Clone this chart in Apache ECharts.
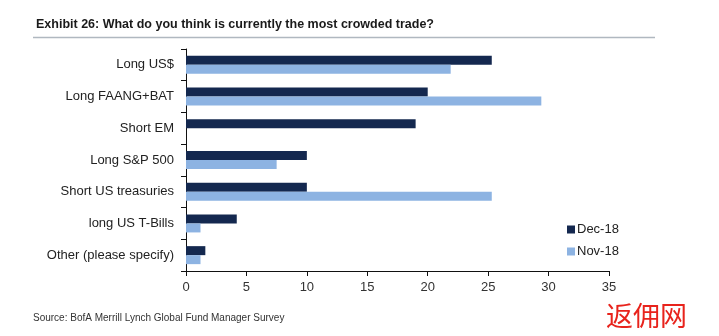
<!DOCTYPE html>
<html><head><meta charset="utf-8">
<script src="https://cdn.jsdelivr.net/npm/echarts@6/dist/echarts.min.js"></script>
<style>html,body{margin:0;padding:0;background:#fff}#c{width:719px;height:336px}</style>
</head><body><div id="c"></div>
<script>
var categories = ["Long US$", "Long FAANG+BAT", "Short EM", "Long S&P 500", "Short US treasuries", "long US T-Bills", "Other (please specify)"];
var dec18 = [25.3, 20.0, 19.0, 10.0, 10.0, 4.2, 1.6];
var nov18 = [21.9, 29.4, 0, 7.5, 25.3, 1.2, 1.2];
var xTicks = [0, 5, 10, 15, 20, 25, 30, 35];

var font = "'Liberation Sans', Arial, sans-serif";
var chart = echarts.init(document.getElementById('c'), null, {renderer: 'canvas'});
chart.setOption({
  animation: false,
  textStyle: {fontFamily: font},
  title: {
    text: "Exhibit 26: What do you think is currently the most crowded trade?",
    left: 31, top: 13,
    textStyle: {fontSize: 12.5, fontWeight: 'bold', color: '#1a1a1a', fontFamily: font}
  },
  graphic: [
    {type: 'line', shape: {x1: 33, y1: 37.5, x2: 655, y2: 37.5}, style: {stroke: '#b0b8c0', lineWidth: 1.5}},
    {type: 'text', left: 33, top: 313, style: {text: "Source: BofA Merrill Lynch Global Fund Manager Survey", fontSize: 10, fill: '#333', fontFamily: font}},
    {type: 'text', left: 606, top: 302, style: {text: "返佣网", fontSize: 27, fill: '#e8231c', fontFamily: "'Noto Sans CJK SC', sans-serif"}}
  ],
  legend: {
    orient: 'vertical', left: 562, top: 218,
    itemWidth: 8, itemHeight: 8, itemGap: 9, icon: 'rect',
    textStyle: {fontSize: 13, color: '#222', fontFamily: font, padding: [0, 0, 0, -3]},
    data: ['Dec-18', 'Nov-18']
  },
  grid: {left: 186, right: 110, top: 49, bottom: 65, containLabel: false},
  xAxis: {
    type: 'value', min: 0, max: 35, interval: 5,
    splitLine: {show: false},
    axisLine: {show: true, lineStyle: {color: '#111', width: 1}},
    axisTick: {show: true, length: 5, lineStyle: {color: '#111'}},
    axisLabel: {fontSize: 13, color: '#333', margin: 10, fontFamily: font,
      formatter: function (v) { return xTicks.indexOf(v) >= 0 ? String(v) : ''; }}
  },
  yAxis: {
    type: 'category', data: categories, inverse: true,
    axisLine: {show: true, lineStyle: {color: '#111', width: 1}},
    axisTick: {show: true, length: 5, lineStyle: {color: '#111'}},
    axisLabel: {fontSize: 13, color: '#222', margin: 12, fontFamily: font}
  },
  series: [
    {name: 'Dec-18', type: 'bar', data: dec18, barWidth: 9, barGap: '0%', itemStyle: {color: '#14284f'}},
    {name: 'Nov-18', type: 'bar', data: nov18, barWidth: 9, barGap: '0%', itemStyle: {color: '#8db3e2'}}
  ]
});
</script></body></html>
